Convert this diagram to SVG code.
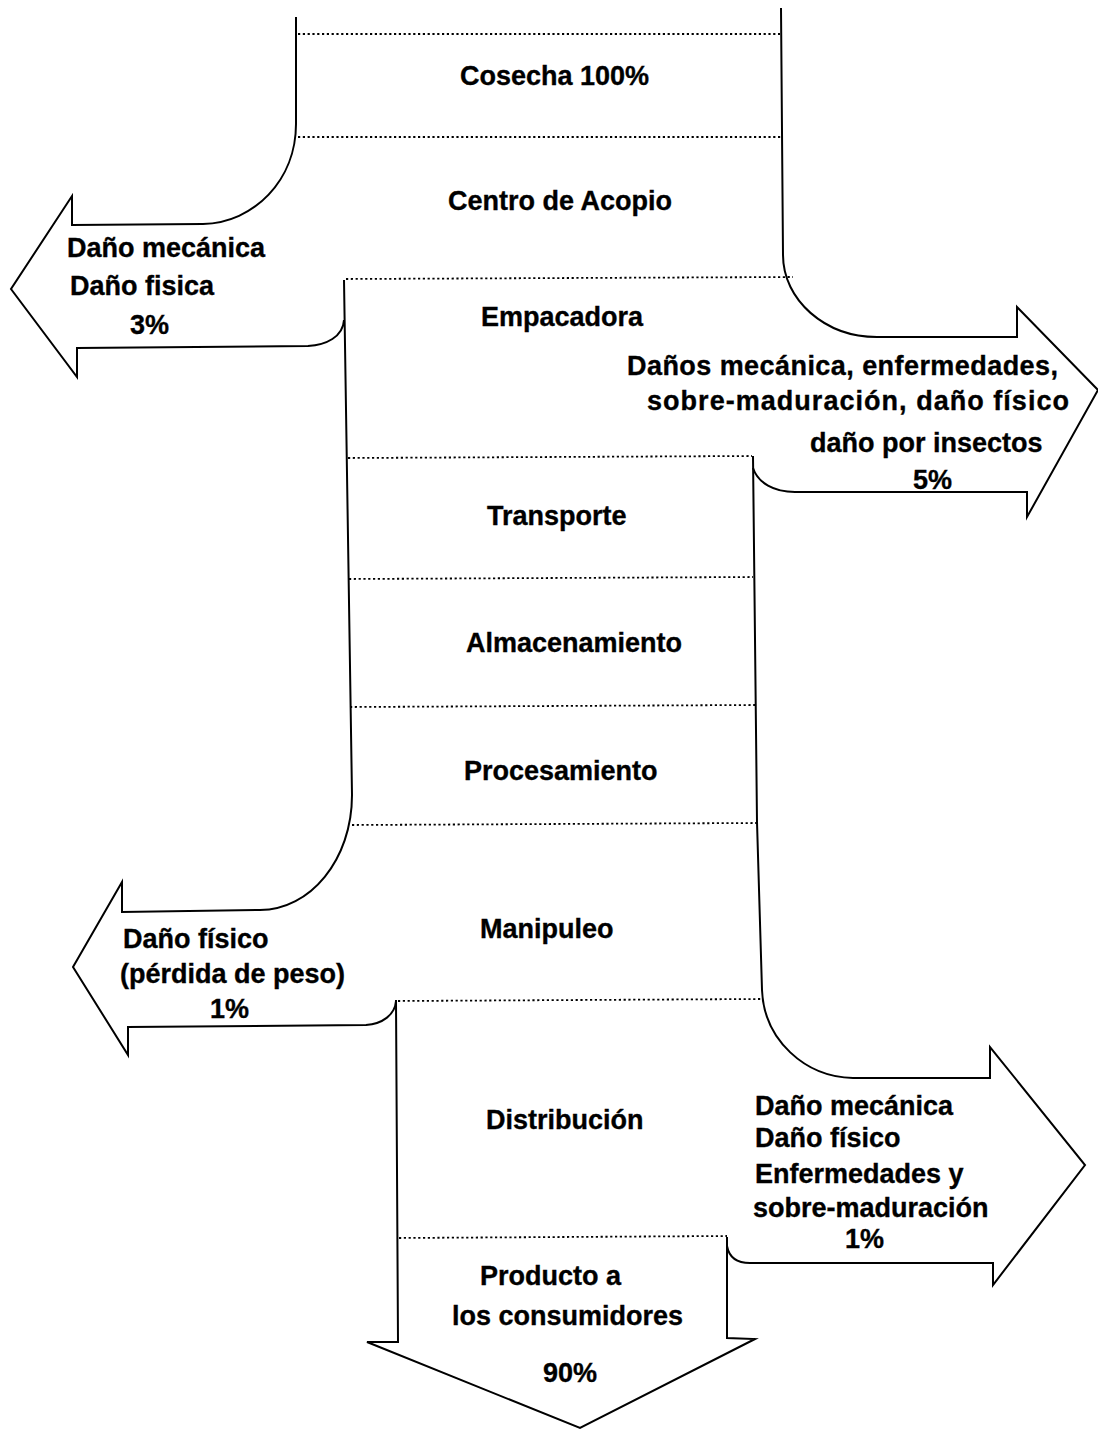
<svg xmlns="http://www.w3.org/2000/svg" width="1098" height="1430" viewBox="0 0 1098 1430">
  <style>
    .wall { fill: none; stroke: #000; stroke-width: 2; stroke-linejoin: miter; stroke-linecap: butt; }
    .sep { stroke: #000; stroke-width: 1.8; stroke-dasharray: 2.2 2.6; fill: none; }
    text { font-family: "Liberation Sans", Arial, Helvetica, sans-serif; font-weight: bold; font-size: 27px; fill: #000; stroke: #000; stroke-width: 0.35; }
  </style>
  <rect width="1098" height="1430" fill="#fff"/>

  <!-- Outline of the product flow and its loss arrows -->
  <g id="connectors">
    <!-- harvest channel, left wall bending into the 3% loss arrow -->
    <path class="wall" d="M296,17 L296,124 C296,180 254,223 203,224 L72,225 L72,196 L11,289 L77,377 L77,348 L308,346 C326,345 343,337 344,320"/>
    <!-- packing / storage channel, left wall bending into the 1% loss arrow -->
    <path class="wall" d="M344,280 L352,795 C352,860 310,910 260,910 L122,912 L122,882 L73,967 L128,1055 L128,1027 L366,1025 C382,1024 395,1015 396,1001"/>
    <!-- distribution channel down to the consumer arrow -->
    <path class="wall" d="M396,1000 L398,1342 L367,1342 L580,1428 L755,1339 L727,1338 L727,1237"/>
    <!-- right wall: 1% loss arrow of distribution -->
    <path class="wall" d="M727,1246 C729,1257 736,1263 750,1263 L993,1263 L993,1285 L1085,1165 L990,1047 L990,1078 L853,1078 C805,1077 764,1040 762,990 L757,822 L753,456"/>
    <!-- right wall: 5% loss arrow of packing -->
    <path class="wall" d="M753,468 C758,483 774,492 795,492 L1027,492 L1027,517 L1098,390 L1017,307 L1017,337 L877,337 C825,337 783,300 783,255 L781,8"/>
  </g>

  <!-- Stages of the chain -->
  <g id="cosecha">
    <line class="sep" x1="298" y1="34" x2="780" y2="34"/>
    <text x="460" y="85">Cosecha 100%</text>
  </g>
  <g id="centro-acopio">
    <line class="sep" x1="298" y1="137" x2="781" y2="137"/>
    <text x="448" y="210">Centro de Acopio</text>
  </g>
  <g id="empacadora">
    <line class="sep" x1="346" y1="279" x2="793" y2="277"/>
    <text x="481" y="326">Empacadora</text>
  </g>
  <g id="transporte">
    <line class="sep" x1="348" y1="458" x2="752" y2="456"/>
    <text x="487" y="525">Transporte</text>
  </g>
  <g id="almacenamiento">
    <line class="sep" x1="349" y1="579" x2="753" y2="577"/>
    <text x="466" y="652">Almacenamiento</text>
  </g>
  <g id="procesamiento">
    <line class="sep" x1="350" y1="707" x2="755" y2="705"/>
    <text x="464" y="780">Procesamiento</text>
  </g>
  <g id="manipuleo">
    <line class="sep" x1="352" y1="825" x2="757" y2="823"/>
    <text x="480" y="938">Manipuleo</text>
  </g>
  <g id="distribucion">
    <line class="sep" x1="398" y1="1001" x2="762" y2="999"/>
    <text x="486" y="1129">Distribución</text>
  </g>
  <g id="consumidores">
    <line class="sep" x1="399" y1="1238" x2="727" y2="1236"/>
    <text x="480" y="1285">Producto a</text>
    <text x="452" y="1325">los consumidores</text>
    <text x="543" y="1382">90%</text>
  </g>

  <!-- Losses -->
  <g id="perdida-acopio">
    <text x="67" y="257">Daño mecánica</text>
    <text x="70" y="295">Daño fisica</text>
    <text x="130" y="334">3%</text>
  </g>
  <g id="perdida-empacadora">
    <text x="627" y="375" textLength="431" lengthAdjust="spacing">Daños mecánica, enfermedades,</text>
    <text x="647" y="410" textLength="422" lengthAdjust="spacing">sobre-maduración, daño físico</text>
    <text x="810" y="452">daño por insectos</text>
    <text x="913" y="489">5%</text>
  </g>
  <g id="perdida-manipuleo">
    <text x="123" y="948">Daño físico</text>
    <text x="120" y="983">(pérdida de peso)</text>
    <text x="210" y="1018">1%</text>
  </g>
  <g id="perdida-distribucion">
    <text x="755" y="1115">Daño mecánica</text>
    <text x="755" y="1147">Daño físico</text>
    <text x="755" y="1183">Enfermedades y</text>
    <text x="753" y="1217">sobre-maduración</text>
    <text x="845" y="1248">1%</text>
  </g>
</svg>
